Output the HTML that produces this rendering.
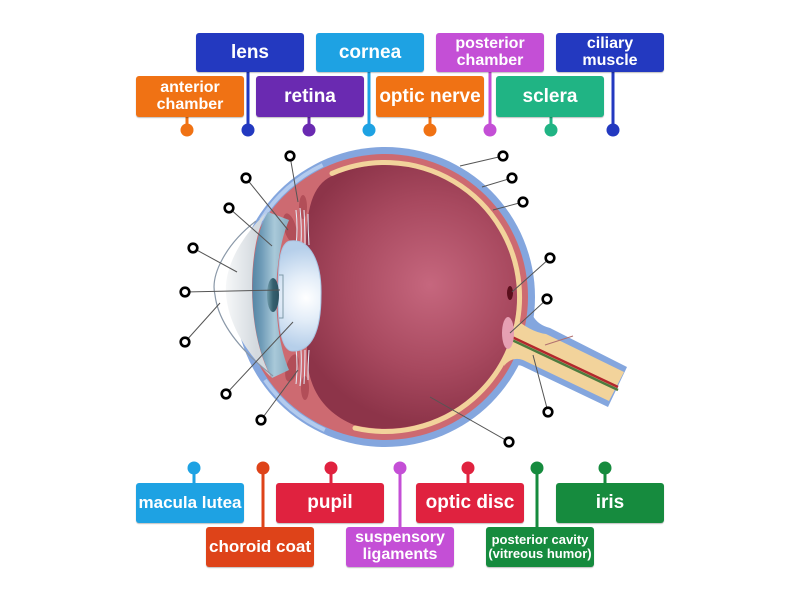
<!DOCTYPE html>
<html><head><meta charset="utf-8"><style>
html,body{margin:0;padding:0;background:#fff;}
#w{position:relative;width:800px;height:600px;overflow:hidden;background:#fff;font-family:"Liberation Sans",Arial,sans-serif;}
svg{position:absolute;left:0;top:0;}
.b{position:absolute;width:108px;height:40px;border-radius:3px;color:#fff;font-weight:bold;display:flex;align-items:center;justify-content:center;text-align:center;line-height:1.05;box-shadow:0 1px 1px rgba(0,0,0,0.25);}
</style></head><body><div id="w">
<svg width="800" height="600" viewBox="0 0 800 600">
<defs>
<radialGradient id="vit" cx="430" cy="285" r="140" gradientUnits="userSpaceOnUse">
<stop offset="0" stop-color="#c6677e"/><stop offset="0.6" stop-color="#a8495f"/><stop offset="1" stop-color="#8d3449"/></radialGradient>
<radialGradient id="lensg" cx="306" cy="298" r="50" gradientUnits="userSpaceOnUse">
<stop offset="0" stop-color="#ffffff"/><stop offset="0.45" stop-color="#e3edf8"/><stop offset="1" stop-color="#b6cfea"/></radialGradient>
<linearGradient id="teal" x1="248" y1="0" x2="286" y2="0" gradientUnits="userSpaceOnUse">
<stop offset="0" stop-color="#4a7b9b"/><stop offset="0.35" stop-color="#6e9bb7"/><stop offset="0.7" stop-color="#a9c9d9"/><stop offset="1" stop-color="#8db2c6"/></linearGradient>
<linearGradient id="ac" x1="224" y1="0" x2="256" y2="0" gradientUnits="userSpaceOnUse">
<stop offset="0" stop-color="#f8f9fa"/><stop offset="1" stop-color="#d4dadf"/></linearGradient>
<linearGradient id="pup" x1="266" y1="0" x2="280" y2="0" gradientUnits="userSpaceOnUse">
<stop offset="0" stop-color="#7aa6b6"/><stop offset="0.5" stop-color="#35606f"/><stop offset="1" stop-color="#2a4f5e"/></linearGradient>
</defs>

<!-- optic nerve sheath -->
<path d="M 526 300 L 533 316 Q 538 325 550 328 L 627 367 L 608 407 L 522 366 Q 514 363 507 373 L 498 340 Z" fill="#84a6de"/>
<!-- globe -->
<circle cx="385" cy="297" r="150" fill="#84a6de"/>
<circle cx="385" cy="297" r="143" fill="#cd6a71"/>
<!-- lighter blue near cornea -->
<path d="M 322.6 165 A 146 146 0 0 0 261 220" fill="none" stroke="#b3cbee" stroke-width="4"/>
<path d="M 265 380 A 146 146 0 0 0 324.8 430" fill="none" stroke="#b3cbee" stroke-width="4"/>
<!-- nerve inner -->
<path d="M 512 316 Q 530 332 546 334 L 624 372 L 609 401 L 523 360 Q 512 356 504 366 Z" fill="#f2d39b"/>
<!-- vitreous -->
<path d="M 332 176 A 132 132 0 1 1 354 425 C 330 415 308 395 307 355 L 306 250 C 306 210 312 185 332 176 Z" fill="url(#vit)"/>
<!-- retina -->
<path d="M 332 173.4 A 134.5 134.5 0 1 1 355 428.1" fill="none" stroke="#f2d39b" stroke-width="5" stroke-linecap="round"/>
<!-- optic vessel -->
<line x1="512" y1="340" x2="618" y2="390" stroke="#4e7b3f" stroke-width="2.5"/>
<line x1="512" y1="337" x2="618" y2="387" stroke="#b3282d" stroke-width="2.5"/>
<line x1="573" y1="336" x2="545" y2="345" stroke="#b07070" stroke-width="1"/>
<!-- optic disc & macula -->
<ellipse cx="508" cy="333" rx="6" ry="16" fill="#e6a0b3"/>
<ellipse cx="510" cy="293" rx="3" ry="7" fill="#5a0f1c"/>

<!-- ciliary body -->
<ellipse cx="290" cy="228" rx="6" ry="15" fill="#b24e58" transform="rotate(-15 290 228)"/>
<ellipse cx="303" cy="207" rx="4" ry="12" fill="#b24e58"/>
<ellipse cx="292" cy="368" rx="6" ry="14" fill="#b24e58" transform="rotate(15 292 368)"/>
<ellipse cx="305" cy="388" rx="4" ry="12" fill="#b24e58"/>
<!-- suspensory ligaments -->
<g stroke="#e4edf9" stroke-width="1" fill="none">
<path d="M 296 210 Q 298 228 296 246"/><path d="M 300 208 Q 302 228 301 244"/><path d="M 304 210 Q 305 228 305 244"/><path d="M 308 214 Q 308 230 309 245"/>
<path d="M 296 384 Q 298 366 296 348"/><path d="M 300 386 Q 302 366 301 350"/><path d="M 304 384 Q 305 366 305 350"/><path d="M 308 380 Q 308 364 309 350"/>
</g>
<!-- lens -->
<path d="M 290 241 C 310 238 322 262 321 296 C 321 330 312 352 292 351 C 282 350 278 330 278 296 C 278 262 280 243 290 241 Z" fill="url(#lensg)" stroke="#a9c4e2" stroke-width="1"/>
<!-- iris band -->
<path d="M 268 212 C 248 245 245 330 272 378 L 289 370 C 272 330 272 260 289 220 Z" fill="url(#teal)"/>
<!-- anterior chamber -->
<path d="M 266 213 C 238 240 224 270 226 294 C 228 320 242 348 271 377 C 245 330 248 245 266 213 Z" fill="url(#ac)"/>
<!-- pupil -->
<ellipse cx="273" cy="295" rx="6" ry="17" fill="url(#pup)"/>
<path d="M 279 275 L 283 275 L 283 318 L 279 318" fill="none" stroke="#7f9aa8" stroke-width="1"/>
<!-- cornea line -->
<path d="M 256 221 C 226 244 210 275 215 295 C 218 320 236 347 273 376" fill="none" stroke="#8a98a8" stroke-width="1.2"/>

<!-- pointer lines -->
<g stroke="#555" stroke-width="1">
<line x1="290" y1="156" x2="298" y2="202"/>
<line x1="246" y1="178" x2="288" y2="230"/>
<line x1="229" y1="208" x2="272" y2="246"/>
<line x1="193" y1="248" x2="237" y2="272"/>
<line x1="185" y1="292" x2="280" y2="290"/>
<line x1="185" y1="342" x2="220" y2="303"/>
<line x1="226" y1="394" x2="293" y2="322"/>
<line x1="261" y1="420" x2="298" y2="370"/>
<line x1="503" y1="156" x2="460" y2="166"/>
<line x1="512" y1="178" x2="482" y2="187"/>
<line x1="523" y1="202" x2="493" y2="210"/>
<line x1="550" y1="258" x2="512" y2="292"/>
<line x1="547" y1="299" x2="510" y2="333"/>
<line x1="548" y1="412" x2="533" y2="355"/>
<line x1="509" y1="442" x2="430" y2="397"/>
</g>
<g fill="#fff" stroke="#000" stroke-width="2.6">
<circle cx="290" cy="156" r="4.3"/><circle cx="246" cy="178" r="4.3"/><circle cx="229" cy="208" r="4.3"/>
<circle cx="193" cy="248" r="4.3"/><circle cx="185" cy="292" r="4.3"/><circle cx="185" cy="342" r="4.3"/>
<circle cx="226" cy="394" r="4.3"/><circle cx="261" cy="420" r="4.3"/>
<circle cx="503" cy="156" r="4.3"/><circle cx="512" cy="178" r="4.3"/><circle cx="523" cy="202" r="4.3"/>
<circle cx="550" cy="258" r="4.3"/><circle cx="547" cy="299" r="4.3"/><circle cx="548" cy="412" r="4.3"/>
<circle cx="509" cy="442" r="4.3"/>
</g>

<!-- pins top -->
<g stroke-width="3">
<line x1="187" y1="115" x2="187" y2="130" stroke="#f07214"/><circle cx="187" cy="130" r="6.5" fill="#f07214"/>
<line x1="248" y1="70" x2="248" y2="130" stroke="#2339c0"/><circle cx="248" cy="130" r="6.5" fill="#2339c0"/>
<line x1="309" y1="115" x2="309" y2="130" stroke="#6a2ab1"/><circle cx="309" cy="130" r="6.5" fill="#6a2ab1"/>
<line x1="369" y1="70" x2="369" y2="130" stroke="#1ea2e3"/><circle cx="369" cy="130" r="6.5" fill="#1ea2e3"/>
<line x1="430" y1="115" x2="430" y2="130" stroke="#f07214"/><circle cx="430" cy="130" r="6.5" fill="#f07214"/>
<line x1="490" y1="70" x2="490" y2="130" stroke="#c44fd6"/><circle cx="490" cy="130" r="6.5" fill="#c44fd6"/>
<line x1="551" y1="115" x2="551" y2="130" stroke="#20b484"/><circle cx="551" cy="130" r="6.5" fill="#20b484"/>
<line x1="613" y1="70" x2="613" y2="130" stroke="#2339c0"/><circle cx="613" cy="130" r="6.5" fill="#2339c0"/>
<!-- pins bottom -->
<line x1="194" y1="468" x2="194" y2="485" stroke="#1ea2e3"/><circle cx="194" cy="468" r="6.5" fill="#1ea2e3"/>
<line x1="263" y1="468" x2="263" y2="529" stroke="#de4319"/><circle cx="263" cy="468" r="6.5" fill="#de4319"/>
<line x1="331" y1="468" x2="331" y2="485" stroke="#e0223f"/><circle cx="331" cy="468" r="6.5" fill="#e0223f"/>
<line x1="400" y1="468" x2="400" y2="529" stroke="#c44fd6"/><circle cx="400" cy="468" r="6.5" fill="#c44fd6"/>
<line x1="468" y1="468" x2="468" y2="485" stroke="#e0223f"/><circle cx="468" cy="468" r="6.5" fill="#e0223f"/>
<line x1="537" y1="468" x2="537" y2="529" stroke="#168b3e"/><circle cx="537" cy="468" r="6.5" fill="#168b3e"/>
<line x1="605" y1="468" x2="605" y2="485" stroke="#168b3e"/><circle cx="605" cy="468" r="6.5" fill="#168b3e"/>
</g>
</svg>

<div class="b" style="left:196px;top:33px;height:39px;background:#2339c0;font-size:19px;">lens</div>
<div class="b" style="left:316px;top:33px;height:39px;background:#1ea2e3;font-size:19px;">cornea</div>
<div class="b" style="left:436px;top:33px;height:39px;background:#c44fd6;font-size:16px;">posterior<br>chamber</div>
<div class="b" style="left:556px;top:33px;height:39px;background:#2339c0;font-size:16px;">ciliary<br>muscle</div>

<div class="b" style="left:136px;top:76px;height:41px;background:#f07214;font-size:16px;">anterior<br>chamber</div>
<div class="b" style="left:256px;top:76px;height:41px;background:#6a2ab1;font-size:19px;">retina</div>
<div class="b" style="left:376px;top:76px;height:41px;background:#f07214;font-size:19px;">optic nerve</div>
<div class="b" style="left:496px;top:76px;height:41px;background:#20b484;font-size:19px;">sclera</div>

<div class="b" style="left:136px;top:483px;background:#1ea2e3;font-size:17px;">macula lutea</div>
<div class="b" style="left:276px;top:483px;background:#e0223f;font-size:19px;">pupil</div>
<div class="b" style="left:416px;top:483px;background:#e0223f;font-size:19px;">optic disc</div>
<div class="b" style="left:556px;top:483px;background:#168b3e;font-size:19px;">iris</div>

<div class="b" style="left:206px;top:527px;background:#de4319;font-size:17px;">choroid coat</div>
<div class="b" style="left:346px;top:527px;background:#c44fd6;font-size:16px;">suspensory<br>ligaments</div>
<div class="b" style="left:486px;top:527px;background:#168b3e;font-size:13px;">posterior cavity<br>(vitreous humor)</div>
</div></body></html>
